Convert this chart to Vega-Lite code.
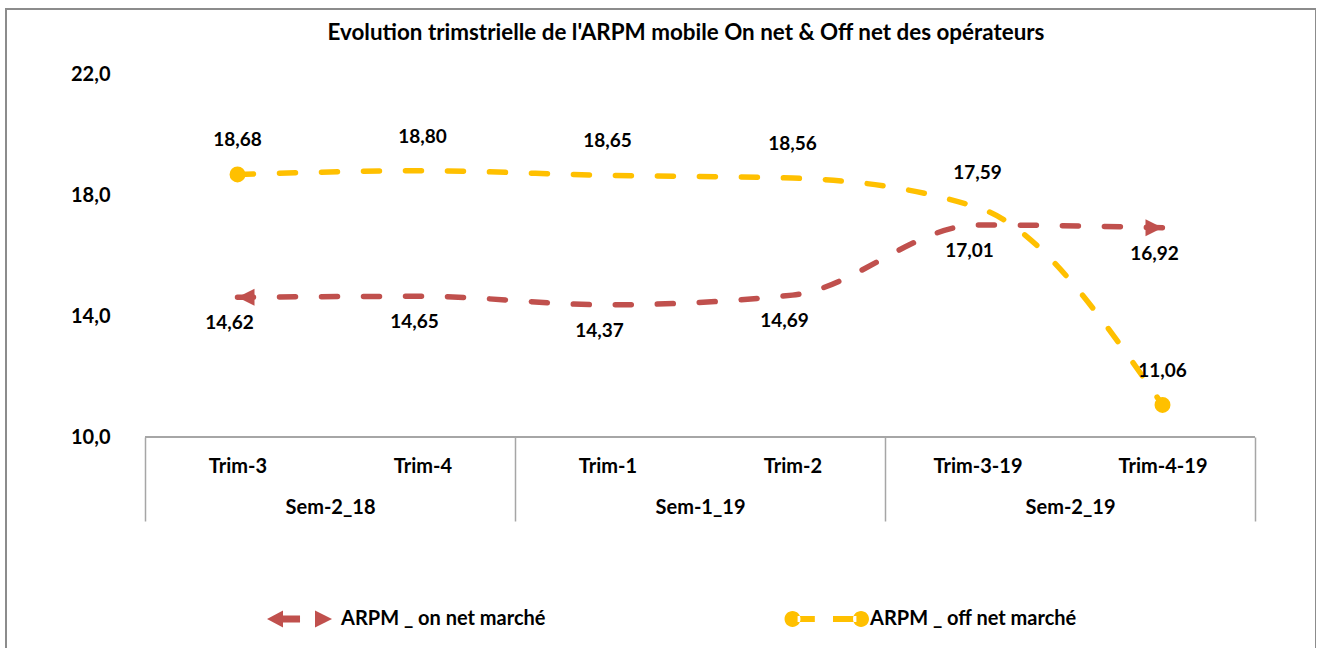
{
  "$schema": "https://vega.github.io/schema/vega-lite/v6.json",
  "width": 1310,
  "height": 645,
  "autosize": {"type": "none"},
  "padding": {"left": 6, "top": 9, "right": 0, "bottom": 0},
  "background": "white",
  "title": {
    "text": "Evolution trimstrielle de l'ARPM mobile On net & Off net des opérateurs",
    "anchor": "middle",
    "frame": "group",
    "font": "Lato",
    "fontSize": 22.4,
    "fontWeight": "bold",
    "color": "black",
    "baseline": "middle",
    "offset": -46,
    "dx": 25
  },
  "datasets": {
    "arpm": [
      {"idx": 0, "trimestre": "Trim-3", "semestre": "Sem-2_18", "serie": "ARPM _ on net marché", "value": 14.62},
      {"idx": 1, "trimestre": "Trim-4", "semestre": "Sem-2_18", "serie": "ARPM _ on net marché", "value": 14.65},
      {"idx": 2, "trimestre": "Trim-1", "semestre": "Sem-1_19", "serie": "ARPM _ on net marché", "value": 14.37},
      {"idx": 3, "trimestre": "Trim-2", "semestre": "Sem-1_19", "serie": "ARPM _ on net marché", "value": 14.69},
      {"idx": 4, "trimestre": "Trim-3-19", "semestre": "Sem-2_19", "serie": "ARPM _ on net marché", "value": 17.01},
      {"idx": 5, "trimestre": "Trim-4-19", "semestre": "Sem-2_19", "serie": "ARPM _ on net marché", "value": 16.92},
      {"idx": 0, "trimestre": "Trim-3", "semestre": "Sem-2_18", "serie": "ARPM _ off net marché", "value": 18.68},
      {"idx": 1, "trimestre": "Trim-4", "semestre": "Sem-2_18", "serie": "ARPM _ off net marché", "value": 18.80},
      {"idx": 2, "trimestre": "Trim-1", "semestre": "Sem-1_19", "serie": "ARPM _ off net marché", "value": 18.65},
      {"idx": 3, "trimestre": "Trim-2", "semestre": "Sem-1_19", "serie": "ARPM _ off net marché", "value": 18.56},
      {"idx": 4, "trimestre": "Trim-3-19", "semestre": "Sem-2_19", "serie": "ARPM _ off net marché", "value": 17.59},
      {"idx": 5, "trimestre": "Trim-4-19", "semestre": "Sem-2_19", "serie": "ARPM _ off net marché", "value": 11.06}
    ]
  },
  "layer": [
    {
      "data": {"values": [{"start": -0.5, "end": 5.5, "base": 10}]},
      "mark": {"type": "rule", "color": "#A6A6A6", "strokeWidth": 2},
      "encoding": {
        "x": {"field": "start", "type": "quantitative"},
        "x2": {"field": "end"},
        "y": {"field": "base", "type": "quantitative"}
      }
    },
    {
      "data": {"name": "arpm"},
      "mark": {"type": "line", "interpolate": "monotone", "strokeWidth": 5.5, "strokeDash": [16, 26], "strokeCap": "round"},
      "encoding": {
        "x": {
          "field": "idx", "type": "quantitative",
          "scale": {"domain": [-1.2514, 5.8297], "nice": false, "zero": false},
          "axis": {
            "values": [-0.5, 0, 0.5, 1, 1.5, 2, 2.5, 3, 3.5, 4, 4.5, 5, 5.5],
            "labelExpr": "datum.value == 0 ? 'Trim-3' : datum.value == 1 ? 'Trim-4' : datum.value == 2 ? 'Trim-1' : datum.value == 3 ? 'Trim-2' : datum.value == 4 ? 'Trim-3-19' : datum.value == 5 ? 'Trim-4-19' : datum.value == 0.5 ? 'Sem-2_18' : datum.value == 2.5 ? 'Sem-1_19' : datum.value == 4.5 ? 'Sem-2_19' : ''",
            "domain": false,
            "grid": false,
            "ticks": true,
            "tickSize": 84,
            "tickColor": "#A6A6A6",
            "tickWidth": 1.5,
            "tickOpacity": {"condition": {"test": "indexof([-0.5, 1.5, 3.5, 5.5], datum.value) >= 0", "value": 1}, "value": 0},
            "labelPadding": {"condition": {"test": "indexof([0.5, 2.5, 4.5], datum.value) >= 0", "value": -14}, "value": -55},
            "offset": -217,
            "labelFont": "Lato",
            "labelFontSize": 20,
            "labelFontWeight": "bold",
            "labelColor": "black",
            "labelBaseline": "middle",
            "labelAlign": "center",
            "labelOverlap": false,
            "labelFlush": false,
            "labelBound": false,
            "title": null
          }
        },
        "y": {
          "field": "value", "type": "quantitative",
          "scale": {"domain": [2.827, 24.149], "nice": false, "zero": false},
          "axis": {
            "values": [10, 14, 18, 22],
            "format": ".1f",
            "domain": false,
            "ticks": false,
            "grid": false,
            "labelFont": "Lato",
            "labelFontSize": 20,
            "labelFontWeight": "bold",
            "labelColor": "black",
            "labelAlign": "right",
            "labelBaseline": "middle",
            "labelPadding": -104,
            "labelOverlap": false,
            "labelFlush": false,
            "title": null
          }
        },
        "color": {
          "field": "serie", "type": "nominal",
          "scale": {"domain": ["ARPM _ on net marché", "ARPM _ off net marché"], "range": ["#C0504D", "#FFC000"]},
          "legend": {
            "orient": "none",
            "legendX": 250,
            "legendY": 568,
            "direction": "horizontal",
            "columns": 2,
            "title": null,
            "symbolSize": 7056,
            "labelFont": "Lato",
            "labelFontSize": 20,
            "labelFontWeight": "bold",
            "labelColor": "black",
            "labelOffset": 1,
            "labelLimit": 400,
            "columnPadding": 236,
            "gridAlign": "all",
            "padding": 0,
            "encoding": {
              "symbols": {
                "shape": {
                  "condition": {"test": "datum.value === 'ARPM _ on net marché'", "value": "M-0.738,0L-0.357,-0.2L-0.357,-0.083L0.048,-0.083L0.048,0.083L-0.357,0.083L-0.357,0.2Z M0.405,-0.2L0.81,0L0.405,0.2Z"},
                  "value": "M-1.011,0A0.19,0.19,0,1,0,-0.631,0A0.19,0.19,0,1,0,-1.011,0Z M-0.7,-0.07L-0.29,-0.07L-0.29,0.07L-0.7,0.07Z M0.143,-0.07L0.7,-0.07L0.7,0.07L0.143,0.07Z M0.62,0A0.19,0.19,0,1,0,1,0A0.19,0.19,0,1,0,0.62,0Z"
                },
                "fill": {
                  "condition": {"test": "datum.value === 'ARPM _ on net marché'", "value": "#C0504D"},
                  "value": "#FFC000"
                },
                "fillOpacity": {"value": 1},
                "opacity": {"value": 1},
                "stroke": {"value": "transparent"},
                "strokeWidth": {"value": 0}
              }
            }
          }
        }
      }
    },
    {
      "data": {"name": "arpm"},
      "transform": [{"filter": "datum.serie === 'ARPM _ off net marché' && (datum.idx == 0 || datum.idx == 5)"}],
      "mark": {"type": "point", "shape": "circle", "filled": true, "size": 254, "color": "#FFC000", "opacity": 1},
      "encoding": {
        "x": {"field": "idx", "type": "quantitative"},
        "y": {"field": "value", "type": "quantitative"}
      }
    },
    {
      "data": {"name": "arpm"},
      "transform": [{"filter": "datum.serie === 'ARPM _ on net marché' && datum.idx == 0"}],
      "mark": {"type": "point", "shape": "M0,0L1,-0.5L1,0.5Z", "filled": true, "size": 1156, "color": "#C0504D", "opacity": 1},
      "encoding": {
        "x": {"field": "idx", "type": "quantitative"},
        "y": {"field": "value", "type": "quantitative"}
      }
    },
    {
      "data": {"name": "arpm"},
      "transform": [{"filter": "datum.serie === 'ARPM _ on net marché' && datum.idx == 5"}],
      "mark": {"type": "point", "shape": "M0,0L-1,-0.5L-1,0.5Z", "filled": true, "size": 1156, "color": "#C0504D", "opacity": 1},
      "encoding": {
        "x": {"field": "idx", "type": "quantitative"},
        "y": {"field": "value", "type": "quantitative"}
      }
    },
    {
      "data": {"name": "arpm"},
      "transform": [{"filter": "datum.serie === 'ARPM _ off net marché'"}],
      "mark": {"type": "text", "dy": -34, "font": "Lato", "fontSize": 19, "fontWeight": "bold", "color": "black", "baseline": "middle"},
      "encoding": {
        "x": {"field": "idx", "type": "quantitative"},
        "y": {"field": "value", "type": "quantitative"},
        "text": {"field": "value", "type": "quantitative", "format": ".2f"}
      }
    },
    {
      "data": {"name": "arpm"},
      "transform": [{"filter": "datum.serie === 'ARPM _ on net marché'"}],
      "mark": {"type": "text", "dy": 26, "dx": -8, "font": "Lato", "fontSize": 19, "fontWeight": "bold", "color": "black", "baseline": "middle"},
      "encoding": {
        "x": {"field": "idx", "type": "quantitative"},
        "y": {"field": "value", "type": "quantitative"},
        "text": {"field": "value", "type": "quantitative", "format": ".2f"}
      }
    }
  ],
  "config": {
    "view": {"stroke": "#8C8C8C", "strokeWidth": 2},
    "font": "Lato",
    "locale": {"number": {"decimal": ",", "thousands": ".", "grouping": [3], "currency": ["", " €"]}}
  }
}
